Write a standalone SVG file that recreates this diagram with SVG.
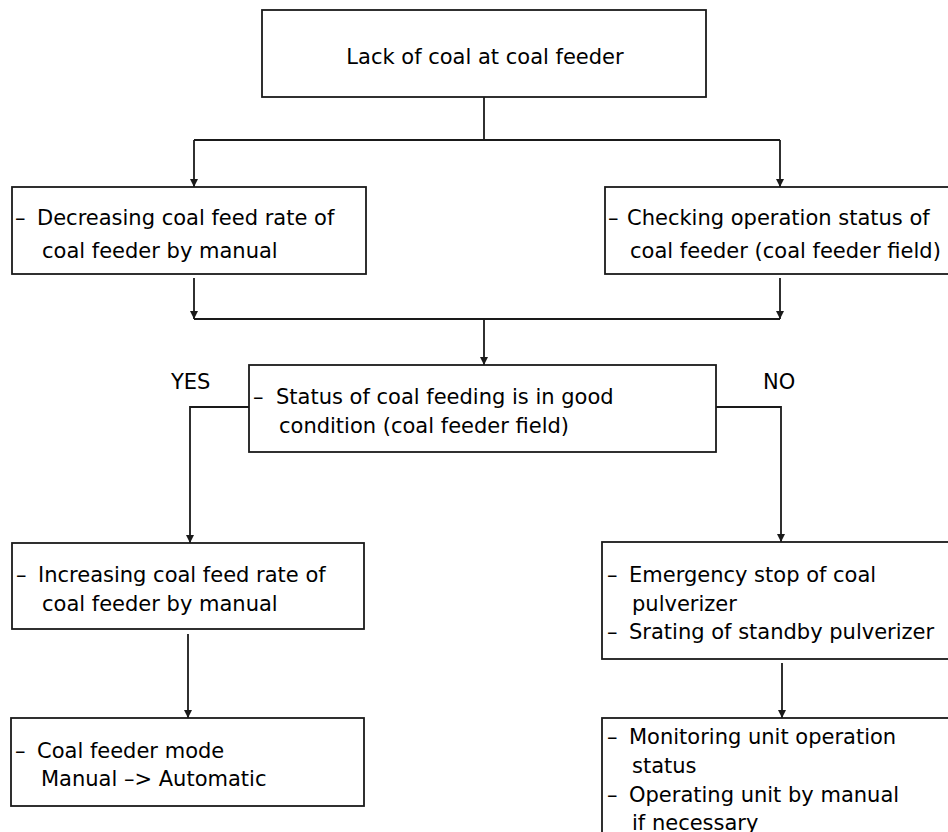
<svg xmlns="http://www.w3.org/2000/svg" width="948" height="832" viewBox="0 0 948 832">
<style>
.box{fill:#fff;stroke:#1a1a1a;stroke-width:1.8}
.ln{fill:none;stroke:#1a1a1a;stroke-width:1.8}
.ar{fill:none;stroke:#1a1a1a;stroke-width:1.8;marker-end:url(#ah)}
text{font-family:"DejaVu Sans","Noto Sans CJK JP",sans-serif;font-size:21px;fill:#000}
</style>
<defs>
<marker id="ah" markerUnits="userSpaceOnUse" markerWidth="9" markerHeight="9" refX="8" refY="4" orient="auto">
<path d="M0,0 L8,4 L0,8 z" fill="#1a1a1a"/>
</marker>
</defs>
<rect width="948" height="832" fill="#fff"/>
<g id="connectors">
<line class="ln" x1="484" y1="97" x2="484" y2="140"/>
<line class="ln" x1="194" y1="140" x2="780" y2="140"/>
<line class="ar" x1="194" y1="140" x2="194" y2="187"/>
<line class="ar" x1="780" y1="140" x2="780" y2="187"/>
<line class="ar" x1="194" y1="278" x2="194" y2="319"/>
<line class="ar" x1="780" y1="278" x2="780" y2="319"/>
<line class="ln" x1="194" y1="319" x2="780" y2="319"/>
<line class="ar" x1="484" y1="319" x2="484" y2="365"/>
<polyline class="ar" points="249,407 190,407 190,543"/>
<polyline class="ar" points="716,407 781,407 781,542"/>
<line class="ar" x1="188" y1="634" x2="188" y2="718"/>
<line class="ar" x1="782" y1="663" x2="782" y2="718"/>
<text x="171" y="389">YES</text>
<text x="763" y="389">NO</text>
</g>
<g id="n_lack">
<rect class="box" x="262" y="10" width="444" height="87"/>
<text x="485" y="64" text-anchor="middle">Lack of coal at coal feeder</text>
</g>
<g id="n_decrease">
<rect class="box" x="12" y="187" width="354" height="87"/>
<text x="15" y="225">–<tspan x="37">Decreasing coal feed rate of</tspan></text>
<text x="42" y="258">coal feeder by manual</text>
</g>
<g id="n_check">
<rect class="box" x="605" y="187" width="350" height="87"/>
<text x="608" y="225">–<tspan x="627">Checking operation status of</tspan></text>
<text x="630" y="258">coal feeder (coal feeder field)</text>
</g>
<g id="n_status">
<rect class="box" x="249" y="365" width="467" height="87"/>
<text x="253" y="404">–<tspan x="276">Status of coal feeding is in good</tspan></text>
<text x="279" y="433">condition (coal feeder field)</text>
</g>
<g id="n_increase">
<rect class="box" x="12" y="543" width="352" height="86"/>
<text x="16" y="582">–<tspan x="38">Increasing coal feed rate of</tspan></text>
<text x="42" y="611">coal feeder by manual</text>
</g>
<g id="n_mode">
<rect class="box" x="11" y="718" width="353" height="88"/>
<text x="15" y="758">–<tspan x="37">Coal feeder mode</tspan></text>
<text x="41" y="786">Manual –&gt; Automatic</text>
</g>
<g id="n_emergency">
<rect class="box" x="602" y="542" width="350" height="117"/>
<text x="607" y="582">–<tspan x="629">Emergency stop of coal</tspan></text>
<text x="632" y="611">pulverizer</text>
<text x="607" y="639">–<tspan x="629">Srating of standby pulverizer</tspan></text>
</g>
<g id="n_monitor">
<rect class="box" x="602" y="718" width="350" height="130"/>
<text x="607" y="744">–<tspan x="629">Monitoring unit operation</tspan></text>
<text x="632" y="773">status</text>
<text x="607" y="802">–<tspan x="629">Operating unit by manual</tspan></text>
<text x="632" y="830">if necessary</text>
</g>
</svg>
